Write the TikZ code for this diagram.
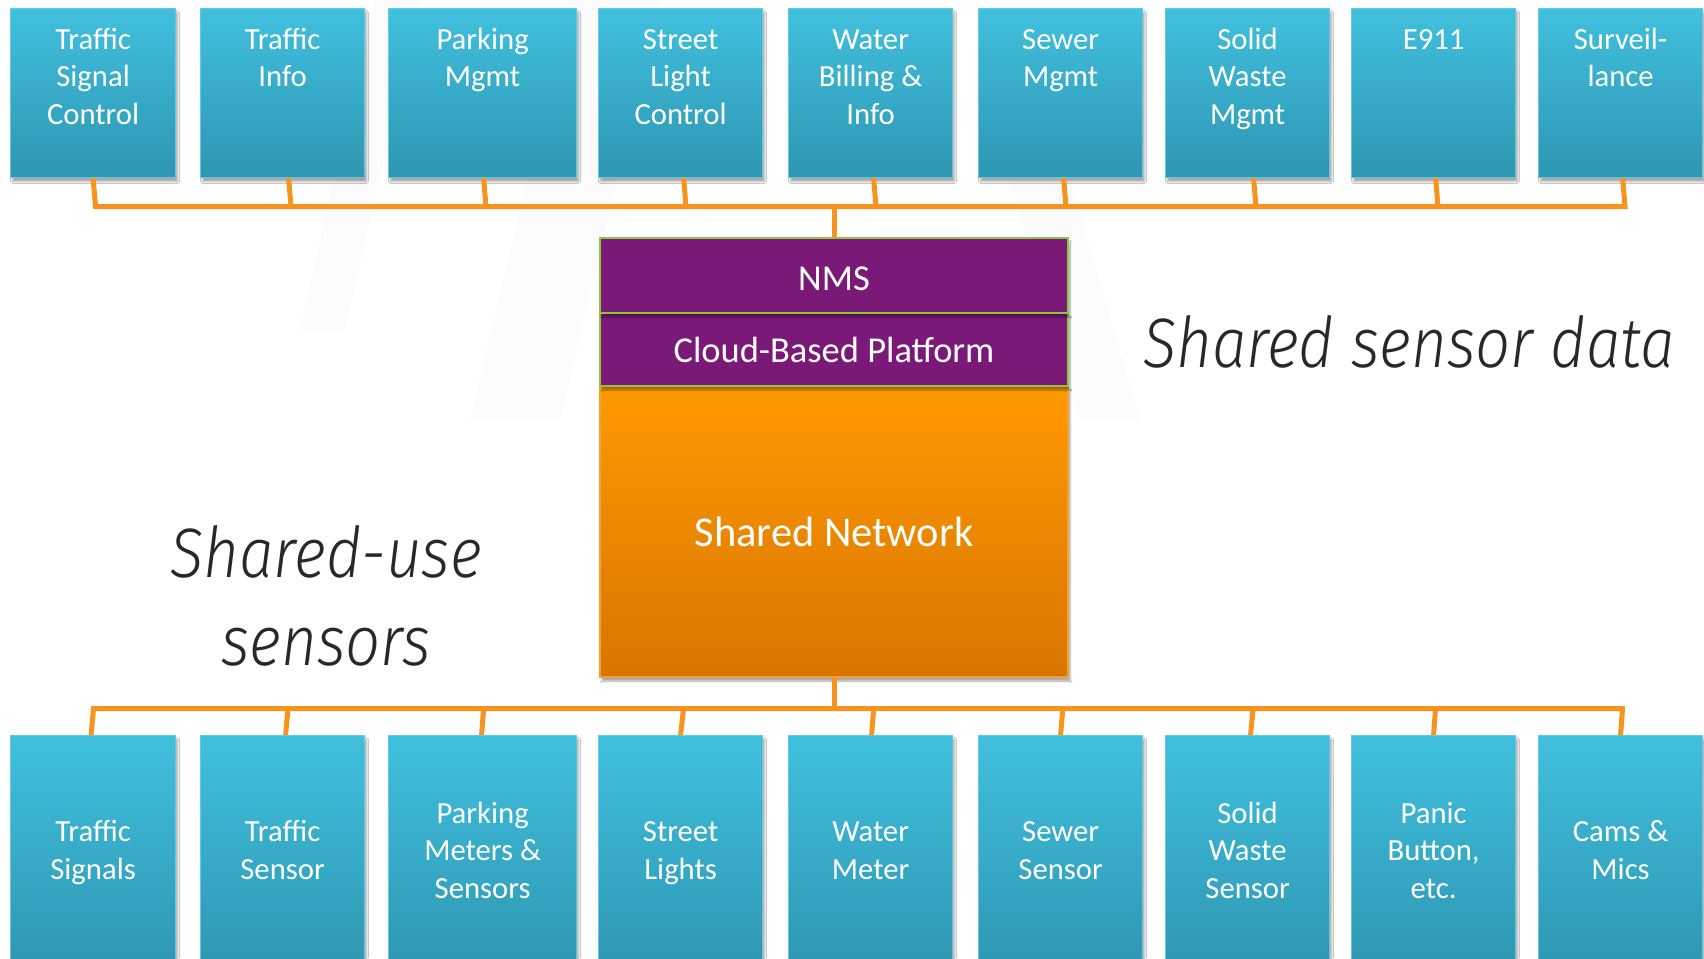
\documentclass[tikz,border=0pt]{standalone}
\usepackage{fontspec}
\setmainfont{Carlito}
\IfFontExistsTF{Fira Sans Light}
  {\newfontfamily\labelfont{Fira Sans Light}}
  {\newfontfamily\labelfont{Carlito}}
\usetikzlibrary{shadows.blur}

\definecolor{bluetop}{RGB}{64,192,222}
\definecolor{bluebot}{RGB}{46,150,178}
\definecolor{blueedge}{RGB}{100,202,228}
\definecolor{nmspurple}{RGB}{123,25,120}
\definecolor{limeedge}{RGB}{140,200,60}
\definecolor{oratop}{RGB}{255,153,0}
\definecolor{oramid}{RGB}{246,143,0}
\definecolor{orabot}{RGB}{216,117,0}
\definecolor{oraedge}{RGB}{247,160,48}
\definecolor{pipecol}{RGB}{247,148,30}
\definecolor{inktext}{RGB}{40,40,40}

\newcommand\boxtext{\fontsize{30.7}{37.5}\selectfont}
\newcommand\cloudtext{\fontsize{36.5}{44}\selectfont}
\newcommand\nettext{\fontsize{42.5}{50}\selectfont}
\newcommand\bigtext{\labelfont\itshape\fontsize{70}{88}\selectfont}

\tikzset{
  softshadow/.style={blur shadow={shadow xshift=2pt, shadow yshift=-4pt,
      shadow opacity=35, shadow blur steps=6}},
  appbox/.style={draw=blueedge, line width=1.2pt, top color=bluetop,
      bottom color=bluebot, anchor=north west, minimum height=169pt,
      inner sep=0pt, softshadow},
  sensbox/.style={appbox, minimum height=235pt, text=white, align=center,
      font=\boxtext},
  apptext/.style={text=white, align=center, anchor=north, inner sep=0pt,
      font=\boxtext},
  layerbox/.style={draw=limeedge, line width=2pt, fill=nmspurple,
      anchor=north west, minimum width=468pt, inner sep=0pt, text=white,
      font=\cloudtext, softshadow},
  netbox/.style={draw=oraedge, line width=2pt, top color=oratop,
      middle color=oramid, bottom color=orabot, anchor=north west,
      minimum width=468pt, minimum height=291pt, inner sep=0pt, text=white,
      font=\nettext, softshadow},
  pipe/.style={draw=pipecol, line width=5pt, line join=miter},
  caption/.style={text=inktext, font=\bigtext, align=center, anchor=base,
      inner sep=0pt, xscale=0.88, transform shape},
  haze/.style={fill=black, opacity=0.016},
}

\begin{document}
\begin{tikzpicture}[x=1pt, y=-1pt]
\useasboundingbox (0,0) rectangle (1704,958);
\fill[white] (0,0) rectangle (1704,958);

% faint backdrop bands
\fill[haze] (300,330) -- (345,330) -- (420,0) -- (375,0) -- cycle;
\fill[haze] (470,420) -- (560,420) -- (660,0) -- (570,0) -- cycle;
\fill[haze] (880,230) -- (960,230) -- (1000,430) -- (930,430) -- cycle;
\fill[haze] (1010,180) -- (1070,180) -- (1140,420) -- (1080,420) -- cycle;

% application row
\node[appbox, minimum width=165pt] (t1) at (10,8) {};
\node[appbox, minimum width=164pt] (t2) at (200,8) {};
\node[appbox, minimum width=188pt] (t3) at (388,8) {};
\node[appbox, minimum width=164pt] (t4) at (598,8) {};
\node[appbox, minimum width=164pt] (t5) at (788,8) {};
\node[appbox, minimum width=164pt] (t6) at (978,8) {};
\node[appbox, minimum width=164pt] (t7) at (1165,8) {};
\node[appbox, minimum width=164pt] (t8) at (1351,8) {};
\node[appbox, minimum width=164pt] (t9) at (1538,8) {};

\node[apptext] (t1x) at ([yshift=-15pt]t1.north) {\strut Traffic\\Signal\\Control};
\node[apptext] (t2x) at ([yshift=-15pt]t2.north) {\strut Traffic\\Info};
\node[apptext] (t3x) at ([yshift=-15pt]t3.north) {\strut Parking\\Mgmt};
\node[apptext] (t4x) at ([yshift=-15pt]t4.north) {\strut Street\\Light\\Control};
\node[apptext] (t5x) at ([yshift=-15pt]t5.north) {\strut Water\\Billing \&\\Info};
\node[apptext] (t6x) at ([yshift=-15pt]t6.north) {\strut Sewer\\Mgmt};
\node[apptext] (t7x) at ([yshift=-15pt]t7.north) {\strut Solid\\Waste\\Mgmt};
\node[apptext] (t8x) at ([yshift=-15pt]t8.north) {\strut E911};
\node[apptext] (t9x) at ([yshift=-15pt]t9.north) {\strut Surveil-\\lance};

% sensor row
\node[sensbox, minimum width=165pt] (b1) at (10,735) {\strut Traffic\\Signals\strut};
\node[sensbox, minimum width=164pt] (b2) at (200,735) {\strut Traffic\\Sensor\strut};
\node[sensbox, minimum width=188pt] (b3) at (388,735) {\strut Parking\\Meters \&\\Sensors\strut};
\node[sensbox, minimum width=164pt] (b4) at (598,735) {\strut Street\\Lights\strut};
\node[sensbox, minimum width=164pt] (b5) at (788,735) {\strut Water\\Meter\strut};
\node[sensbox, minimum width=164pt] (b6) at (978,735) {\strut Sewer\\Sensor\strut};
\node[sensbox, minimum width=164pt] (b7) at (1165,735) {\strut Solid\\Waste\\Sensor\strut};
\node[sensbox, minimum width=164pt] (b8) at (1351,735) {\strut Panic\\Button,\\etc.\strut};
\node[sensbox, minimum width=164pt] (b9) at (1538,735) {\strut Cams \&\\Mics\strut};

% central stack
\node[netbox] (net) at (599,385) {Shared Network};
\node[layerbox, minimum height=73pt] (cloud) at (599,312) {Cloud-Based Platform};
\node[layerbox, minimum height=75pt, text height=30.5pt, text depth=0pt] (nms) at (599,237) {NMS};

% upper bus
\coordinate (tj1) at (95.6,206.5);
\coordinate (tj2) at (291,206.5);
\coordinate (tj3) at (486,206.5);
\coordinate (tj4) at (686,206.5);
\coordinate (tj5) at (876,206.5);
\coordinate (tj6) at (1066,206.5);
\coordinate (tj7) at (1256,206.5);
\coordinate (tj8) at (1438,206.5);
\coordinate (tj9) at (1625,206.5);

\draw[pipe] ([xshift=0pt]t1.south) -- (tj1) -- (tj9) -- ([xshift=2pt]t9.south);
\draw[pipe] ([xshift=6pt]t2.south) -- (tj2);
\draw[pipe] ([xshift=1pt]t3.south) -- (tj3);
\draw[pipe] ([xshift=3pt]t4.south) -- (tj4);
\draw[pipe] ([xshift=3pt]t5.south) -- (tj5);
\draw[pipe] ([xshift=3pt]t6.south) -- (tj6);
\draw[pipe] ([xshift=6pt]t7.south) -- (tj7);
\draw[pipe] ([xshift=2pt]t8.south) -- (tj8);
\draw[pipe] (nms.north) -- (nms.north |- tj1);

% lower bus
\coordinate (bj1) at (93.5,708.5);
\coordinate (bj2) at (288,708.5);
\coordinate (bj3) at (483.6,708.5);
\coordinate (bj4) at (683.5,708.5);
\coordinate (bj5) at (873.7,708.5);
\coordinate (bj6) at (1062.8,708.5);
\coordinate (bj7) at (1253,708.5);
\coordinate (bj8) at (1435.5,708.5);
\coordinate (bj9) at (1622.5,708.5);

\draw[pipe] ([xshift=-2pt]b1.north) -- (bj1) -- (bj9) -- ([xshift=0pt]b9.north);
\draw[pipe] (bj2) -- ([xshift=3pt]b2.north);
\draw[pipe] (bj3) -- ([xshift=-1pt]b3.north);
\draw[pipe] (bj4) -- ([xshift=0pt]b4.north);
\draw[pipe] (bj5) -- ([xshift=1pt]b5.north);
\draw[pipe] (bj6) -- ([xshift=0pt]b6.north);
\draw[pipe] (bj7) -- ([xshift=3pt]b7.north);
\draw[pipe] (bj8) -- ([xshift=0pt]b8.north);
\draw[pipe] (net.south) -- (net.south |- bj1);

% captions
\node[caption] (sharedData) at (1409,367) {Shared sensor data};
\node[caption] (sharedUse) at (326,665) {Shared-use\\sensors};
\end{tikzpicture}
\end{document}
